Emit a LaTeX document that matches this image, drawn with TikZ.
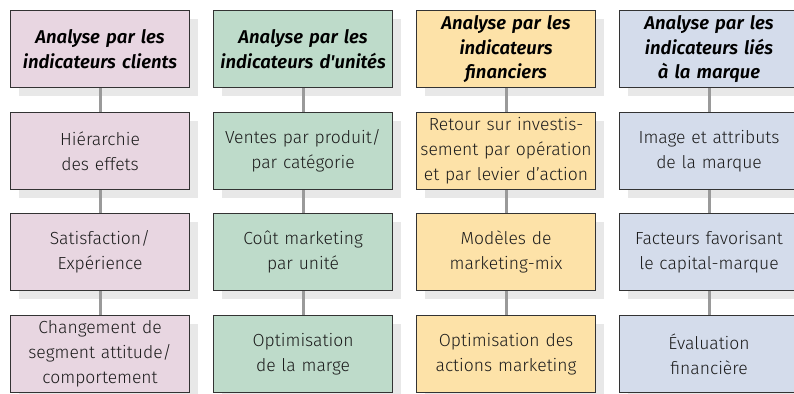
\documentclass[tikz,border=0pt]{standalone}
\usepackage{fontspec}
\newfontfamily\bodyf{Fira Sans Light}
\newfontfamily\headf{Fira Sans SemiBold Italic}
\usetikzlibrary{shadows}
\definecolor{cpink}{HTML}{E8D6E1}
\definecolor{cgreen}{HTML}{BEDBCA}
\definecolor{cyellow}{HTML}{FDE2A8}
\definecolor{cblue}{HTML}{D4DCEB}
\definecolor{cshadow}{HTML}{E8E8E8}
\definecolor{cconn}{HTML}{9A9A9A}
\definecolor{cborder}{HTML}{333333}
\definecolor{ctext}{HTML}{1C1C1C}
\tikzset{
  box/.style={draw=cborder, line width=1.1pt, anchor=north west,
    minimum width=179pt, minimum height=77pt, inner sep=1pt,
    text width=177pt, align=center,
    drop shadow={shadow xshift=8pt, shadow yshift=-8pt, fill=cshadow, opacity=1}},
  head/.style={box, font=\headf\fontsize{18.5}{24.5}\selectfont, text=black},
  body/.style={box, font=\bodyf\fontsize{17.5}{25}\selectfont, text=ctext},
  conn/.style={draw=cconn, line width=3pt}
}
\begin{document}
\begin{tikzpicture}[x=1pt, y=-1pt]
\useasboundingbox (0,0) rectangle (794,393);
\clip (0,0) rectangle (794,393);
% column 1
\node[head, fill=cpink] (a1) at (10,10) {Analyse par les\\indicateurs clients};
\node[body, fill=cpink] (a2) at (10,112) {Hiérarchie\\des effets};
\node[body, fill=cpink] (a3) at (10,213) {Satisfaction/\\Expérience};
\node[body, fill=cpink] (a4) at (10,315) {Changement de\\segment attitude/\\comportement};
% column 2
\node[head, fill=cgreen] (b1) at (213,10) {Analyse par les\\indicateurs d'unités};
\node[body, fill=cgreen] (b2) at (213,112) {Ventes par produit/\\par catégorie};
\node[body, fill=cgreen] (b3) at (213,213) {Coût marketing\\par unité};
\node[body, fill=cgreen] (b4) at (213,315) {Optimisation\\de la marge};
% column 3
\node[head, fill=cyellow] (c1) at (416,10) {Analyse par les\\indicateurs\\financiers};
\node[body, fill=cyellow] (c2) at (416,112) {Retour sur investis-\\sement par opération\\et par levier d’action};
\node[body, fill=cyellow] (c3) at (416,213) {Modèles de\\marketing-mix};
\node[body, fill=cyellow] (c4) at (416,315) {Optimisation des\\actions marketing};
% column 4
\node[head, fill=cblue] (d1) at (619,10) {Analyse par les\\indicateurs liés\\à la marque};
\node[body, fill=cblue] (d2) at (619,112) {Image et attributs\\de la marque};
\node[body, fill=cblue] (d3) at (619,213) {Facteurs favorisant\\le capital-marque};
\node[body, fill=cblue] (d4) at (619,315) {Évaluation\\financière};
% connectors
\foreach \c in {a,b,c,d}{
  \draw[conn] (\c1.south) -- (\c2.north);
  \draw[conn] (\c2.south) -- (\c3.north);
  \draw[conn] (\c3.south) -- (\c4.north);
}
\end{tikzpicture}
\end{document}
